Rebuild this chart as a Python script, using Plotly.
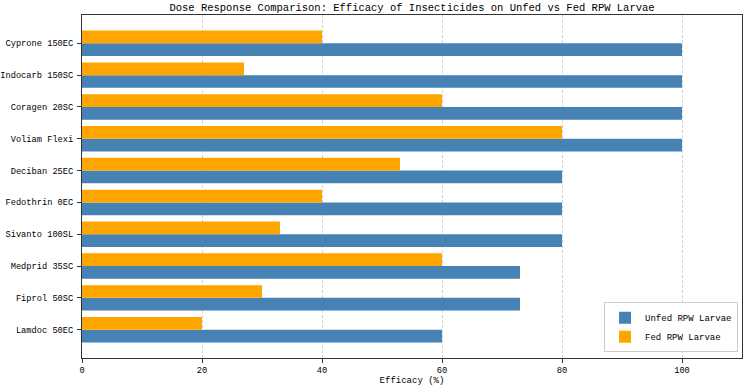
import plotly.graph_objects as go

categories = ["Lamdoc 50EC", "Fiprol 50SC", "Medprid 35SC", "Sivanto 100SL", "Fedothrin 0EC",
              "Deciban 25EC", "Voliam Flexi", "Coragen 20SC", "Indocarb 150SC", "Cyprone 150EC"]
unfed = [60, 73, 73, 80, 80, 80, 100, 100, 100, 100]
fed = [20, 30, 60, 33, 40, 53, 80, 60, 27, 40]

FONT = "Liberation Mono"

fig = go.Figure()
fig.add_trace(go.Bar(y=categories, x=unfed, orientation="h", name="Unfed RPW Larvae",
                     marker=dict(color="#4682B4", line=dict(width=0))))
fig.add_trace(go.Bar(y=categories, x=fed, orientation="h", name="Fed RPW Larvae",
                     marker=dict(color="#FFA500", line=dict(width=0))))

fig.update_layout(
    width=745, height=386,
    margin=dict(l=82, r=3, t=15, b=28, autoexpand=False),
    paper_bgcolor="white", plot_bgcolor="white",
    barmode="group", bargap=0.2, bargroupgap=0,
    font=dict(family=FONT, size=9, color="black"),
    title=dict(text="Dose Response Comparison: Efficacy of Insecticides on Unfed vs Fed RPW Larvae",
               x=0.5, xref="paper", xanchor="center", y=0.982, yanchor="middle",
               font=dict(family=FONT, size=10.5, color="black")),
    legend=dict(x=0.994, y=0.017, xanchor="right", yanchor="bottom",
                bgcolor="white", bordercolor="#cccccc", borderwidth=1,
                font=dict(family=FONT, size=9), traceorder="normal", tracegroupgap=0),
    xaxis=dict(range=[0, 110], tickvals=[0, 20, 40, 60, 80, 100], automargin=False,
               showgrid=True, gridcolor="#d3d3d3", griddash="3px,2px", gridwidth=0.8,
               zeroline=False, showline=True, linecolor="#333333", linewidth=1, mirror=True,
               ticks="outside", ticklen=4, tickcolor="#333333", layer="above traces",
               tickfont=dict(family=FONT, size=8.7),
               title=dict(text="Efficacy (%)", standoff=4, font=dict(family=FONT, size=9))),
    yaxis=dict(categoryorder="array", categoryarray=categories, range=[-0.89, 9.89],
               automargin=False, tickfont=dict(family=FONT, size=8.7), ticklabelstandoff=2,
               showgrid=False, zeroline=False, showline=True, linecolor="#333333", linewidth=1,
               mirror=True, ticks="outside", ticklen=4, tickcolor="#333333"),
)

fig.write_html("out.html")
